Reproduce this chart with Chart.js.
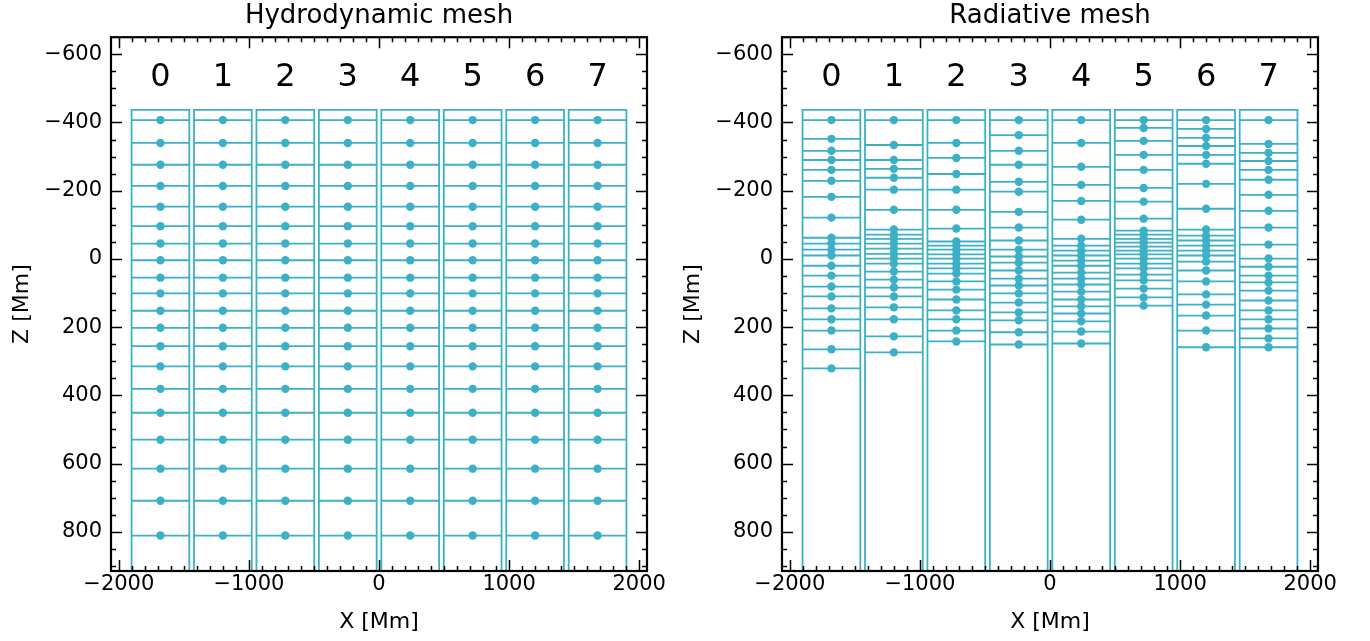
<!DOCTYPE html>
<html>
<head>
<meta charset="utf-8">
<script src="https://cdn.jsdelivr.net/npm/chart.js@4.4.0/dist/chart.umd.min.js"></script>
<style>
    html, body { margin: 0; padding: 0; background: #fff; }
    #wrap { position: relative; width: 1370px; height: 641px; overflow: hidden; }
    .panel { position: absolute; top: 0; height: 641px; }
    #p1 { left: 0; width: 685px; }
    #p2 { left: 671px; width: 699px; }
</style>
</head>
<body>
<div id="wrap">
    <div class="panel" id="p1"><canvas id="cHydro"></canvas></div>
    <div class="panel" id="p2"><canvas id="cRad"></canvas></div>
</div>
<script>
// ===== DADOS =====
const xTicks = [-2000, -1000, 0, 1000, 2000];
const yTicks = [-600, -400, -200, 0, 200, 400, 600, 800];
const xRange = [-2060, 2060];
const zRange = [-650, 915];

const colLabels = ['0', '1', '2', '3', '4', '5', '6', '7'];
const colCenters = [-1680, -1200, -720, -240, 240, 720, 1200, 1680];
const colHalfWidth = 222;
const meshTop = -437;
const labelZ = -530;

// malha hidrodinâmica (igual em todas as colunas)
const hydroZ = [-407, -340, -276, -214, -153, -96, -45, 4, 55, 101, 152, 202, 256, 315, 381, 451, 530, 615, 709, 811];

// malha radiativa, uma lista por coluna
const radZ0 = [-407, -352, -317, -290, -261, -229, -182, -121, -62, -45, -27, -10, 20, 49, 81, 110, 145, 177, 210, 265, 321];
const radZ1 = [-407, -334, -290, -264, -238, -203, -144, -86, -71, -59, -45, -30, -15, -1, 14, 37, 61, 84, 110, 142, 177, 227, 274];
const radZ2 = [-407, -340, -296, -249, -203, -144, -89, -51, -39, -27, -13, -1, 14, 28, 43, 66, 90, 119, 151, 177, 210, 242];
const radZ3 = [-407, -363, -317, -276, -226, -197, -138, -92, -54, -27, -7, 11, 34, 58, 78, 101, 128, 157, 180, 215, 251];
const radZ4 = [-407, -340, -270, -217, -170, -115, -59, -39, -24, -10, 5, 20, 40, 58, 75, 96, 119, 139, 160, 183, 213, 248];
const radZ5 = [-407, -384, -346, -305, -261, -208, -168, -118, -83, -71, -59, -48, -36, -24, -13, -1, 14, 28, 46, 63, 87, 113, 137];
const radZ6 = [-407, -381, -355, -331, -305, -279, -220, -147, -86, -68, -54, -39, -24, -10, 8, 34, 66, 104, 134, 166, 210, 259];
const radZ7 = [-407, -337, -311, -287, -261, -232, -188, -141, -92, -42, -1, 23, 49, 69, 93, 122, 151, 177, 204, 233, 259];

const MESH = '#3cb0c6';
const FONT = 'DejaVu Sans';

Chart.defaults.color = '#000';
Chart.defaults.font.family = FONT;

function fmt(v) {
    return v < 0 ? '\u2212' + Math.abs(v) : String(v);
}

function meshDatasets(columns) {
    const rects = [], rows = [], pts = [];
    columns.forEach((zs, k) => {
        const xc = colCenters[k];
        const l = xc - colHalfWidth, r = xc + colHalfWidth;
        rects.push({ x: l, y: zRange[1] }, { x: l, y: meshTop }, { x: r, y: meshTop }, { x: r, y: zRange[1] }, { x: r, y: null });
        zs.forEach(z => {
            rows.push({ x: l, y: z }, { x: r, y: z }, { x: r, y: null });
            pts.push({ x: xc, y: z });
        });
    });
    return [
        { data: pts, showLine: false, pointRadius: 4.2, pointBackgroundColor: MESH, pointBorderWidth: 0 },
        { data: rows, showLine: true, pointRadius: 0, borderColor: MESH, borderWidth: 1.8 },
        { data: rects, showLine: true, pointRadius: 0, borderColor: MESH, borderWidth: 1.8 }
    ];
}

// moldura, marcas internas e rótulos das colunas
const moldura = {
    id: 'moldura',
    afterDraw(chart) {
        const { ctx, chartArea: a, scales: { x, y } } = chart;
        ctx.save();
        ctx.strokeStyle = '#000';
        ctx.lineWidth = 1.5;
        ctx.beginPath();
        for (let v = -2000; v <= 2000; v += 100) {
            const px = Math.round(x.getPixelForValue(v)) + 0.5;
            const len = v % 1000 === 0 ? 11 : 5;
            ctx.moveTo(px, a.bottom); ctx.lineTo(px, a.bottom - len);
            ctx.moveTo(px, a.top); ctx.lineTo(px, a.top + len);
        }
        for (let v = -600; v < zRange[1]; v += 50) {
            const py = Math.round(y.getPixelForValue(v)) + 0.5;
            const len = v % 200 === 0 ? 11 : 5;
            ctx.moveTo(a.left, py); ctx.lineTo(a.left + len, py);
            ctx.moveTo(a.right, py); ctx.lineTo(a.right - len, py);
        }
        ctx.stroke();
        ctx.lineWidth = 2.2;
        ctx.strokeRect(a.left, a.top, a.right - a.left, a.bottom - a.top);

        ctx.fillStyle = '#000';
        ctx.font = '32px ' + FONT;
        ctx.textAlign = 'center';
        ctx.textBaseline = 'middle';
        colLabels.forEach((t, k) => {
            ctx.fillText(t, x.getPixelForValue(colCenters[k]), y.getPixelForValue(labelZ));
        });
        ctx.restore();
    }
};

function criarPainel(id, titulo, columns, padRight) {
    return new Chart(document.getElementById(id), {
        type: 'scatter',
        data: { datasets: meshDatasets(columns) },
        options: {
            responsive: true,
            maintainAspectRatio: false,
            animation: false,
            events: [],
            layout: { padding: { left: 0, right: padRight, top: 0, bottom: 0 } },
            plugins: {
                legend: { display: false },
                tooltip: { enabled: false },
                title: {
                    display: true, text: titulo, fullSize: false,
                    font: { size: 26, weight: 'normal' },
                    padding: { top: 1, bottom: 5 }
                }
            },
            scales: {
                x: {
                    type: 'linear', min: xRange[0], max: xRange[1],
                    grid: { display: false, drawTicks: false },
                    border: { display: false },
                    afterBuildTicks: s => { s.ticks = xTicks.map(v => ({ value: v })); },
                    afterFit: s => { s.height = 70; },
                    ticks: { callback: fmt, autoSkip: false, maxRotation: 0, padding: 1, font: { size: 21 } },
                    title: { display: true, text: 'X [Mm]', font: { size: 22 }, padding: { top: 0, bottom: 6 } }
                },
                y: {
                    type: 'linear', min: zRange[0], max: zRange[1], reverse: true,
                    grid: { display: false, drawTicks: false },
                    border: { display: false },
                    afterBuildTicks: s => { s.ticks = yTicks.map(v => ({ value: v })); },
                    afterFit: s => { s.width = 111; },
                    ticks: { callback: fmt, autoSkip: false, padding: 9, font: { size: 21 } },
                    title: { display: true, text: 'Z [Mm]', font: { size: 22 }, padding: { top: 9, bottom: 0 } }
                }
            }
        },
        plugins: [moldura]
    });
}

criarPainel('cHydro', 'Hydrodynamic mesh', colCenters.map(() => hydroZ), 38);
criarPainel('cRad', 'Radiative mesh', [radZ0, radZ1, radZ2, radZ3, radZ4, radZ5, radZ6, radZ7], 52);
</script>
</body>
</html>
